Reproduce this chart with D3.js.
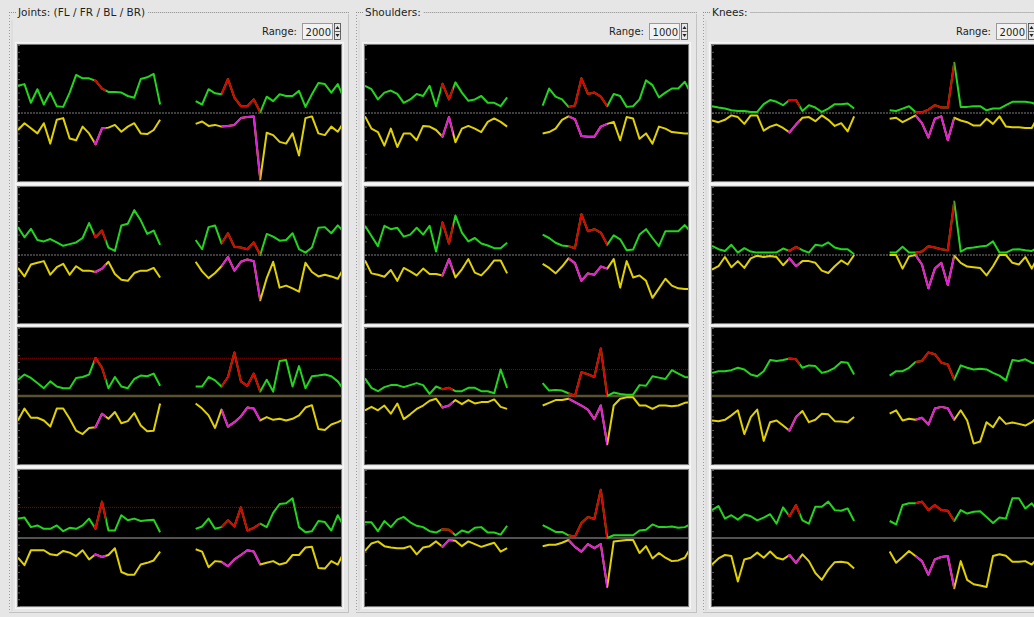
<!DOCTYPE html>
<html>
<head>
<meta charset="utf-8">
<script src="https://cdn.jsdelivr.net/npm/d3@7"></script>
<style>
  html, body { margin: 0; padding: 0; background: #e6e6e6; }
  svg { display: block; font-family: "DejaVu Sans", sans-serif; }
</style>
</head>
<body>
<svg id="chart" width="1034" height="617"></svg>
<script>
// ---- Panel setup ----
const groupTitles = ["Joints: (FL / FR / BL / BR)", "Shoulders:", "Knees:"];
const groupRanges = [2000, 1000, 2000];
const legNames = ["FL", "FR", "BL", "BR"];

// sample times of the two recorded stretches (shared by every trace)
const timesA = [0, 2, 4, 6, 8, 10, 12, 14, 16, 18, 20, 22, 24, 26, 28, 30, 32, 34, 36, 38, 40, 42, 44];
const timesB = [55, 57, 59, 61, 63, 65, 67, 69, 71, 73, 75, 77, 79, 81, 83, 85, 87, 89, 91, 93, 95, 97, 99, 101];

// highlighted time windows (drawn red / magenta)
const highlightA = [23.5, 27.2];
const highlightB = [63, 75];

// limit lines per leg (null = none)
const jointLimits = [null, null, 1110, 900];
const shoulderLimits = [null, 590, 390, null];
const kneeLimits = [null, null, null, null];

// ---- Joints ----
const jointFLUpA = [800, 850, 300, 700, 250, 600, 200, 180, 600, 1120, 1020, 1020, 950, 720, 620, 620, 600, 500, 450, 1000, 1050, 1150, 250];
const jointFLUpB = [350, 250, 700, 580, 550, 1000, 450, 200, 200, 400, 20, 480, 350, 550, 500, 500, 650, 180, 550, 880, 850, 600, 850, 400];
const jointFLLoA = [-500, -300, -450, -600, -300, -900, -200, -150, -750, -800, -400, -600, -920, -450, -430, -350, -550, -400, -300, -600, -620, -500, -200];
const jointFLLoB = [-320, -250, -380, -350, -400, -380, -350, -150, -120, -100, -1950, -580, -650, -850, -900, -600, -1250, -150, -100, -600, -650, -400, -550, -250];

const jointFRUpA = [820, 520, 770, 440, 400, 470, 370, 270, 320, 370, 500, 940, 520, 720, 220, 120, 870, 920, 1320, 1020, 620, 720, 300];
const jointFRUpB = [440, 170, 820, 870, 340, 640, 240, 220, 170, 370, 0, 620, 540, 420, 440, 640, 170, 70, 220, 800, 820, 640, 870, 670];
const jointFRLoA = [-380, -630, -280, -230, -180, -580, -360, -260, -580, -330, -460, -460, -500, -400, -200, -560, -730, -760, -530, -460, -460, -380, -660];
const jointFRLoB = [-200, -480, -680, -530, -330, -60, -460, -200, -130, -180, -1330, -680, -200, -960, -900, -980, -1080, -230, -500, -630, -580, -630, -700, -360];

const jointBLUpA = [480, 630, 530, 380, 230, 430, 280, 230, 230, 530, 560, 630, 1120, 830, 230, 560, 280, 230, 500, 600, 580, 660, 300];
const jointBLUpB = [280, 280, 560, 460, 280, 560, 1280, 430, 300, 660, 130, 480, 130, 1030, 1060, 280, 880, 230, 580, 600, 630, 580, 430, 160];
const jointBLLoA = [-720, -370, -640, -640, -720, -900, -370, -370, -670, -1020, -1120, -940, -920, -520, -670, -470, -800, -740, -500, -870, -1040, -1020, -220];
const jointBLLoB = [-220, -370, -570, -940, -400, -900, -770, -600, -340, -370, -720, -620, -700, -670, -720, -670, -570, -340, -270, -970, -1000, -840, -770, -680];

const jointBRUpA = [570, 600, 320, 370, 270, 270, 370, 200, 300, 270, 370, 570, 270, 1070, 220, 220, 670, 520, 570, 500, 520, 540, 170];
const jointBRUpB = [270, 340, 570, 270, 320, 520, 340, 900, 220, 300, 420, 320, 740, 1000, 1020, 1170, 320, 170, 200, 500, 470, 220, 670, 320];
const jointBRLoA = [-580, -800, -360, -360, -360, -480, -510, -380, -430, -530, -360, -630, -480, -560, -500, -300, -1000, -1080, -1080, -780, -730, -660, -400];
const jointBRLoB = [-330, -400, -860, -680, -700, -830, -630, -500, -360, -400, -780, -730, -680, -780, -730, -500, -500, -280, -260, -880, -900, -680, -780, -400];

// ---- Shoulders ----
const shoulderFLUpA = [400, 350, 200, 300, 330, 280, 150, 200, 280, 250, 400, 100, 430, 200, 450, 300, 180, 200, 250, 150, 150, 100, 230];
const shoulderFLUpB = [110, 360, 240, 200, 90, 110, 510, 280, 300, 240, 100, 280, 250, 90, 100, 200, 480, 410, 230, 300, 360, 360, 460, 280];
const shoulderFLLoA = [-50, -230, -280, -480, -230, -500, -300, -300, -400, -190, -200, -250, -350, -60, -430, -230, -190, -230, -280, -130, -80, -130, -200];
const shoulderFLLoB = [-300, -280, -230, -100, -50, -90, -340, -350, -350, -200, -160, -130, -400, -60, -80, -380, -300, -450, -200, -230, -280, -290, -300, -300];

const shoulderFRUpA = [430, 280, 130, 430, 380, 400, 270, 300, 400, 300, 430, 50, 480, 170, 580, 330, 200, 250, 170, 140, 100, 100, 180];
const shoulderFRUpB = [300, 250, 180, 140, 130, 100, 600, 350, 380, 330, 150, 290, 230, 70, 80, 300, 380, 250, 130, 350, 350, 350, 440, 330];
const shoulderFRLoA = [-80, -270, -290, -320, -220, -380, -190, -240, -300, -200, -280, -280, -300, -60, -330, -210, -60, -260, -300, -200, -80, -80, -270];
const shoulderFRLoB = [-130, -190, -270, -170, -50, -120, -380, -270, -290, -170, -200, -60, -480, -90, -330, -300, -380, -630, -490, -350, -450, -490, -500, -500];

const shoulderBLUpA = [260, 120, 70, 130, 160, 160, 130, 160, 190, 160, 30, 140, 100, 120, 70, 70, 120, 120, 70, 70, 40, 390, 120];
const shoulderBLUpB = [190, 80, 90, 80, 40, 0, 350, 320, 280, 700, 0, 50, 30, 20, 20, 160, 150, 290, 270, 250, 380, 330, 280, 270];
const shoulderBLLoA = [-210, -160, -210, -140, -260, -110, -340, -270, -190, -140, -70, -40, -170, -140, -60, -120, -60, -110, -90, -90, -50, -160, -190];
const shoulderBLLoB = [-140, -100, -60, -60, -40, -90, -140, -200, -340, -140, -710, -140, -40, -20, -20, -140, -140, -190, -140, -140, -150, -140, -100, -90];

const shoulderBRUpA = [230, 230, 100, 250, 160, 270, 310, 230, 180, 160, 100, 80, 130, 120, 40, 110, 80, 150, 160, 80, 80, 50, 180];
const shoulderBRUpB = [190, 140, 90, 90, 40, 20, 220, 310, 280, 710, 0, 40, 40, 40, 40, 110, 120, 200, 160, 160, 170, 150, 160, 210];
const shoulderBRLoA = [-190, -80, -50, -120, -140, -150, -150, -120, -240, -140, -120, -50, -130, -30, -40, -120, -50, -90, -130, -100, -70, -200, -150];
const shoulderBRLoB = [-120, -100, -100, -70, -30, -130, -200, -90, -150, -90, -720, -50, -40, -30, -30, -220, -120, -300, -220, -290, -340, -330, -290, -130];

// ---- Knees ----
const kneeFLUpA = [200, 160, 130, 80, 60, 60, 30, 30, 260, 380, 330, 230, 380, 380, 60, 230, 160, 30, 130, 260, 260, 280, 130];
const kneeFLUpB = [80, 60, 130, 200, 30, 20, 100, 230, 160, 160, 1480, 180, 180, 200, 200, 80, 130, 130, 230, 330, 330, 330, 300, 230];
const kneeFLLoA = [-220, -270, -200, -70, -120, -320, -70, -70, -520, -400, -340, -440, -570, -340, -140, -120, -240, -70, -200, -380, -300, -540, -100];
const kneeFLLoB = [-170, -140, -270, -170, -70, -300, -720, -170, -100, -800, -140, -220, -270, -370, -370, -170, -320, -100, -400, -420, -420, -440, -440, -100];

const kneeFRUpA = [270, 170, 120, 300, 70, 200, 100, 70, 70, 70, 80, 190, 120, 240, 140, 70, 300, 270, 370, 220, 170, 170, 20];
const kneeFRUpB = [70, 70, 240, 70, 70, 100, 260, 220, 170, 140, 1570, 100, 200, 220, 250, 270, 400, 70, 70, 160, 170, 140, 120, 220];
const kneeFRLoA = [-430, -330, -60, -360, -180, -380, -100, -20, -60, -30, -60, -300, -100, -330, -180, -180, -230, -460, -530, -330, -160, -280, 0];
const kneeFRLoB = [0, 0, -400, -40, 0, -280, -980, -400, -230, -880, -20, -230, -340, -360, -380, -600, -330, 0, 0, -230, -280, -60, -400, -30];

const kneeBLUpA = [680, 730, 730, 760, 830, 780, 630, 580, 730, 1060, 1030, 1060, 1100, 1080, 830, 900, 880, 680, 730, 830, 1000, 980, 630];
const kneeBLUpB = [600, 730, 730, 830, 1000, 1030, 1280, 1230, 980, 930, 480, 900, 830, 780, 800, 780, 680, 600, 460, 1060, 1030, 1080, 980, 930];
const kneeBLLoA = [-720, -740, -700, -570, -420, -1120, -620, -400, -1320, -770, -720, -870, -1020, -620, -440, -770, -700, -520, -540, -740, -750, -770, -620];
const kneeBLLoB = [-520, -420, -720, -670, -700, -640, -840, -370, -320, -360, -700, -420, -720, -1400, -1340, -770, -920, -620, -820, -780, -820, -870, -770, -600];

const kneeBRUpA = [820, 940, 570, 670, 540, 690, 640, 520, 600, 700, 420, 900, 640, 970, 520, 420, 920, 920, 1070, 820, 800, 870, 500];
const kneeBRUpB = [500, 400, 970, 1020, 1020, 1070, 820, 970, 820, 800, 500, 820, 720, 770, 790, 620, 440, 600, 570, 1170, 1170, 870, 1020, 770];
const kneeBRLoA = [-780, -600, -500, -530, -1280, -630, -580, -430, -580, -400, -580, -630, -500, -730, -480, -680, -1030, -1230, -930, -710, -700, -730, -900];
const kneeBRLoB = [-400, -730, -560, -380, -530, -680, -1080, -630, -560, -530, -1480, -680, -1230, -1360, -1400, -1440, -530, -480, -520, -700, -700, -680, -780, -580];

// lookup table: group -> leg -> [upperA, upperB, lowerA, lowerB]
const traces = [
  [[jointFLUpA, jointFLUpB, jointFLLoA, jointFLLoB],
   [jointFRUpA, jointFRUpB, jointFRLoA, jointFRLoB],
   [jointBLUpA, jointBLUpB, jointBLLoA, jointBLLoB],
   [jointBRUpA, jointBRUpB, jointBRLoA, jointBRLoB]],
  [[shoulderFLUpA, shoulderFLUpB, shoulderFLLoA, shoulderFLLoB],
   [shoulderFRUpA, shoulderFRUpB, shoulderFRLoA, shoulderFRLoB],
   [shoulderBLUpA, shoulderBLUpB, shoulderBLLoA, shoulderBLLoB],
   [shoulderBRUpA, shoulderBRUpB, shoulderBRLoA, shoulderBRLoB]],
  [[kneeFLUpA, kneeFLUpB, kneeFLLoA, kneeFLLoB],
   [kneeFRUpA, kneeFRUpB, kneeFRLoA, kneeFRLoB],
   [kneeBLUpA, kneeBLUpB, kneeBLLoA, kneeBLLoB],
   [kneeBRUpA, kneeBRUpB, kneeBRLoA, kneeBRLoB]]
];
const limits = [jointLimits, shoulderLimits, kneeLimits];

// ---- Layout & style ----
const groupBoxX = [9, 356, 703];
const groupBoxW = [340, 341, 345];
const plotLeft = [18, 365, 712];
const plotW = 323, plotH = 136;
const plotTops = [45, 187, 328, 470];

const colUpper = "#22d61e", colLower = "#e0d200";
const colUpperHi = "#e00000", colLowerHi = "#e01ee0";
const baselineStyle = [
  { stroke: "#7c7c7c", width: 1, dash: "2,1" },
  { stroke: "#7c7c7c", width: 1, dash: "2,1" },
  { stroke: "#57522f", width: 2.5, dash: null },
  { stroke: "#6e6e6e", width: 1.6, dash: null }
];

const svg = d3.select("#chart");
const defs = svg.append("defs");
defs.append("filter").attr("id", "soft")
  .attr("x", "-5%").attr("y", "-5%").attr("width", "110%").attr("height", "110%")
  .append("feGaussianBlur").attr("stdDeviation", 0.35);

const x = d3.scaleLinear().domain([0, 100]).range([0, plotW]);

groupTitles.forEach((title, gi) => {
  const gx = groupBoxX[gi];
  const box = svg.append("g");

  // group frame
  box.append("line").attr("x1", gx + 0.5).attr("x2", gx + 0.5).attr("y1", 12).attr("y2", 613)
    .attr("stroke", "#9c9c9c").attr("stroke-dasharray", "1,2");
  box.append("line").attr("x1", gx + groupBoxW[gi] - 0.5).attr("x2", gx + groupBoxW[gi] - 0.5)
    .attr("y1", 14).attr("y2", 613).attr("stroke", "#c2c2c2");
  box.append("line").attr("x1", gx).attr("x2", gx + groupBoxW[gi]).attr("y1", 612.5).attr("y2", 612.5)
    .attr("stroke", "#c2c2c2");
  box.append("line").attr("x1", gx + 3).attr("x2", gx + 3).attr("y1", 20).attr("y2", 611)
    .attr("stroke", "#d6d6d6");

  const t = box.append("text").attr("x", plotLeft[gi]).attr("y", 16)
    .attr("font-size", 10.5).attr("fill", "#1e1e1e").text(title);
  const tw = t.node().getComputedTextLength();
  box.append("line").attr("x1", gx).attr("x2", plotLeft[gi] - 2).attr("y1", 12.5).attr("y2", 12.5)
    .attr("stroke", "#8c8c8c").attr("stroke-dasharray", "1,1");
  box.append("line").attr("x1", plotLeft[gi] + tw + 3).attr("x2", gx + groupBoxW[gi]).attr("y1", 12.5).attr("y2", 12.5)
    .attr("stroke", "#8c8c8c").attr("stroke-dasharray", "1,1");

  // range spin box
  const right = plotLeft[gi] + plotW;
  box.append("text").attr("x", right - 44).attr("y", 35).attr("text-anchor", "end")
    .attr("font-size", 10).attr("fill", "#1e1e1e").text("Range:");
  box.append("rect").attr("x", right - 38.5).attr("y", 23.5).attr("width", 30).attr("height", 16)
    .attr("fill", "#f2f2f2").attr("stroke", "#9a9a9a");
  box.append("text").attr("x", right - 10).attr("y", 35.5).attr("text-anchor", "end")
    .attr("font-size", 10).attr("fill", "#1e1e1e").text(String(groupRanges[gi]));
  const sp = box.append("g").attr("transform", `translate(${right - 7},23)`);
  sp.append("rect").attr("x", 0.5).attr("y", 0.5).attr("width", 6).attr("height", 16)
    .attr("fill", "#e8e8e8").attr("stroke", "#444").attr("stroke-width", 0.8);
  sp.append("line").attr("x1", 0.5).attr("x2", 6.5).attr("y1", 8.5).attr("y2", 8.5).attr("stroke", "#444").attr("stroke-width", 0.8);
  sp.append("path").attr("d", "M1.5,6 L3.5,3 L5.5,6 Z").attr("fill", "#222");
  sp.append("path").attr("d", "M1.5,11 L3.5,14 L5.5,11 Z").attr("fill", "#222");

  // per-leg plots
  legNames.forEach((leg, ri) => {
    const y = d3.scaleLinear().domain([-groupRanges[gi], groupRanges[gi]]).range([plotH, 0]);
    const g = svg.append("g").attr("transform", `translate(${plotLeft[gi]},${plotTops[ri]})`)
      .attr("class", `plot ${leg}`);

    g.append("rect").attr("x", -2.5).attr("y", -2.5).attr("width", plotW + 5).attr("height", plotH + 5)
      .attr("fill", "none").attr("stroke", "#f6f6f6");
    g.append("rect").attr("x", -0.5).attr("y", -0.5).attr("width", plotW + 1).attr("height", plotH + 1)
      .attr("fill", "#000").attr("stroke", "#777");

    const clipId = `clip-${gi}-${ri}`;
    defs.append("clipPath").attr("id", clipId)
      .append("rect").attr("width", plotW).attr("height", plotH);
    const hiId = `hi-${gi}-${ri}`;
    const hc = defs.append("clipPath").attr("id", hiId);
    [highlightA, highlightB].forEach(w => {
      hc.append("rect").attr("x", x(w[0])).attr("y", 0)
        .attr("width", x(w[1]) - x(w[0])).attr("height", plotH);
    });

    // faint tick dots on the left edge
    const ax = g.append("g").call(d3.axisRight(y).ticks(14).tickSize(2).tickFormat(""));
    ax.select(".domain").remove();
    ax.selectAll("line").attr("stroke", "#555");

    const inner = g.append("g").attr("clip-path", `url(#${clipId})`);
    const bs = baselineStyle[ri];
    inner.append("line").attr("x1", 0).attr("x2", plotW).attr("y1", y(0)).attr("y2", y(0))
      .attr("stroke", bs.stroke).attr("stroke-width", bs.width)
      .attr("stroke-dasharray", bs.dash);

    const lim = limits[gi][ri];
    if (lim !== null) {
      inner.append("line").attr("x1", 0).attr("x2", plotW).attr("y1", y(lim)).attr("y2", y(lim))
        .attr("stroke", "#8a0000").attr("stroke-width", 1).attr("stroke-dasharray", "1,1");
    }

    const line = d3.line().x(d => x(d[0])).y(d => y(d[1]));
    const [upA, upB, loA, loB] = traces[gi][ri];
    const series = [
      { ts: timesA, vs: upA, c: colUpper, h: colUpperHi },
      { ts: timesB, vs: upB, c: colUpper, h: colUpperHi },
      { ts: timesA, vs: loA, c: colLower, h: colLowerHi },
      { ts: timesB, vs: loB, c: colLower, h: colLowerHi }
    ];
    const lines = inner.append("g").attr("filter", "url(#soft)");
    series.forEach(s => {
      const pts = s.ts.map((t, i) => [t, s.vs[i]]);
      lines.append("path").attr("d", line(pts)).attr("fill", "none")
        .attr("stroke", s.c).attr("stroke-width", 2).attr("stroke-linejoin", "round");
    });
    series.forEach(s => {
      const pts = s.ts.map((t, i) => [t, s.vs[i]]);
      lines.append("path").attr("d", line(pts)).attr("fill", "none")
        .attr("clip-path", `url(#${hiId})`)
        .attr("stroke", s.h).attr("stroke-width", 2).attr("stroke-linejoin", "round");
    });
  });
});
</script>
</body>
</html>
